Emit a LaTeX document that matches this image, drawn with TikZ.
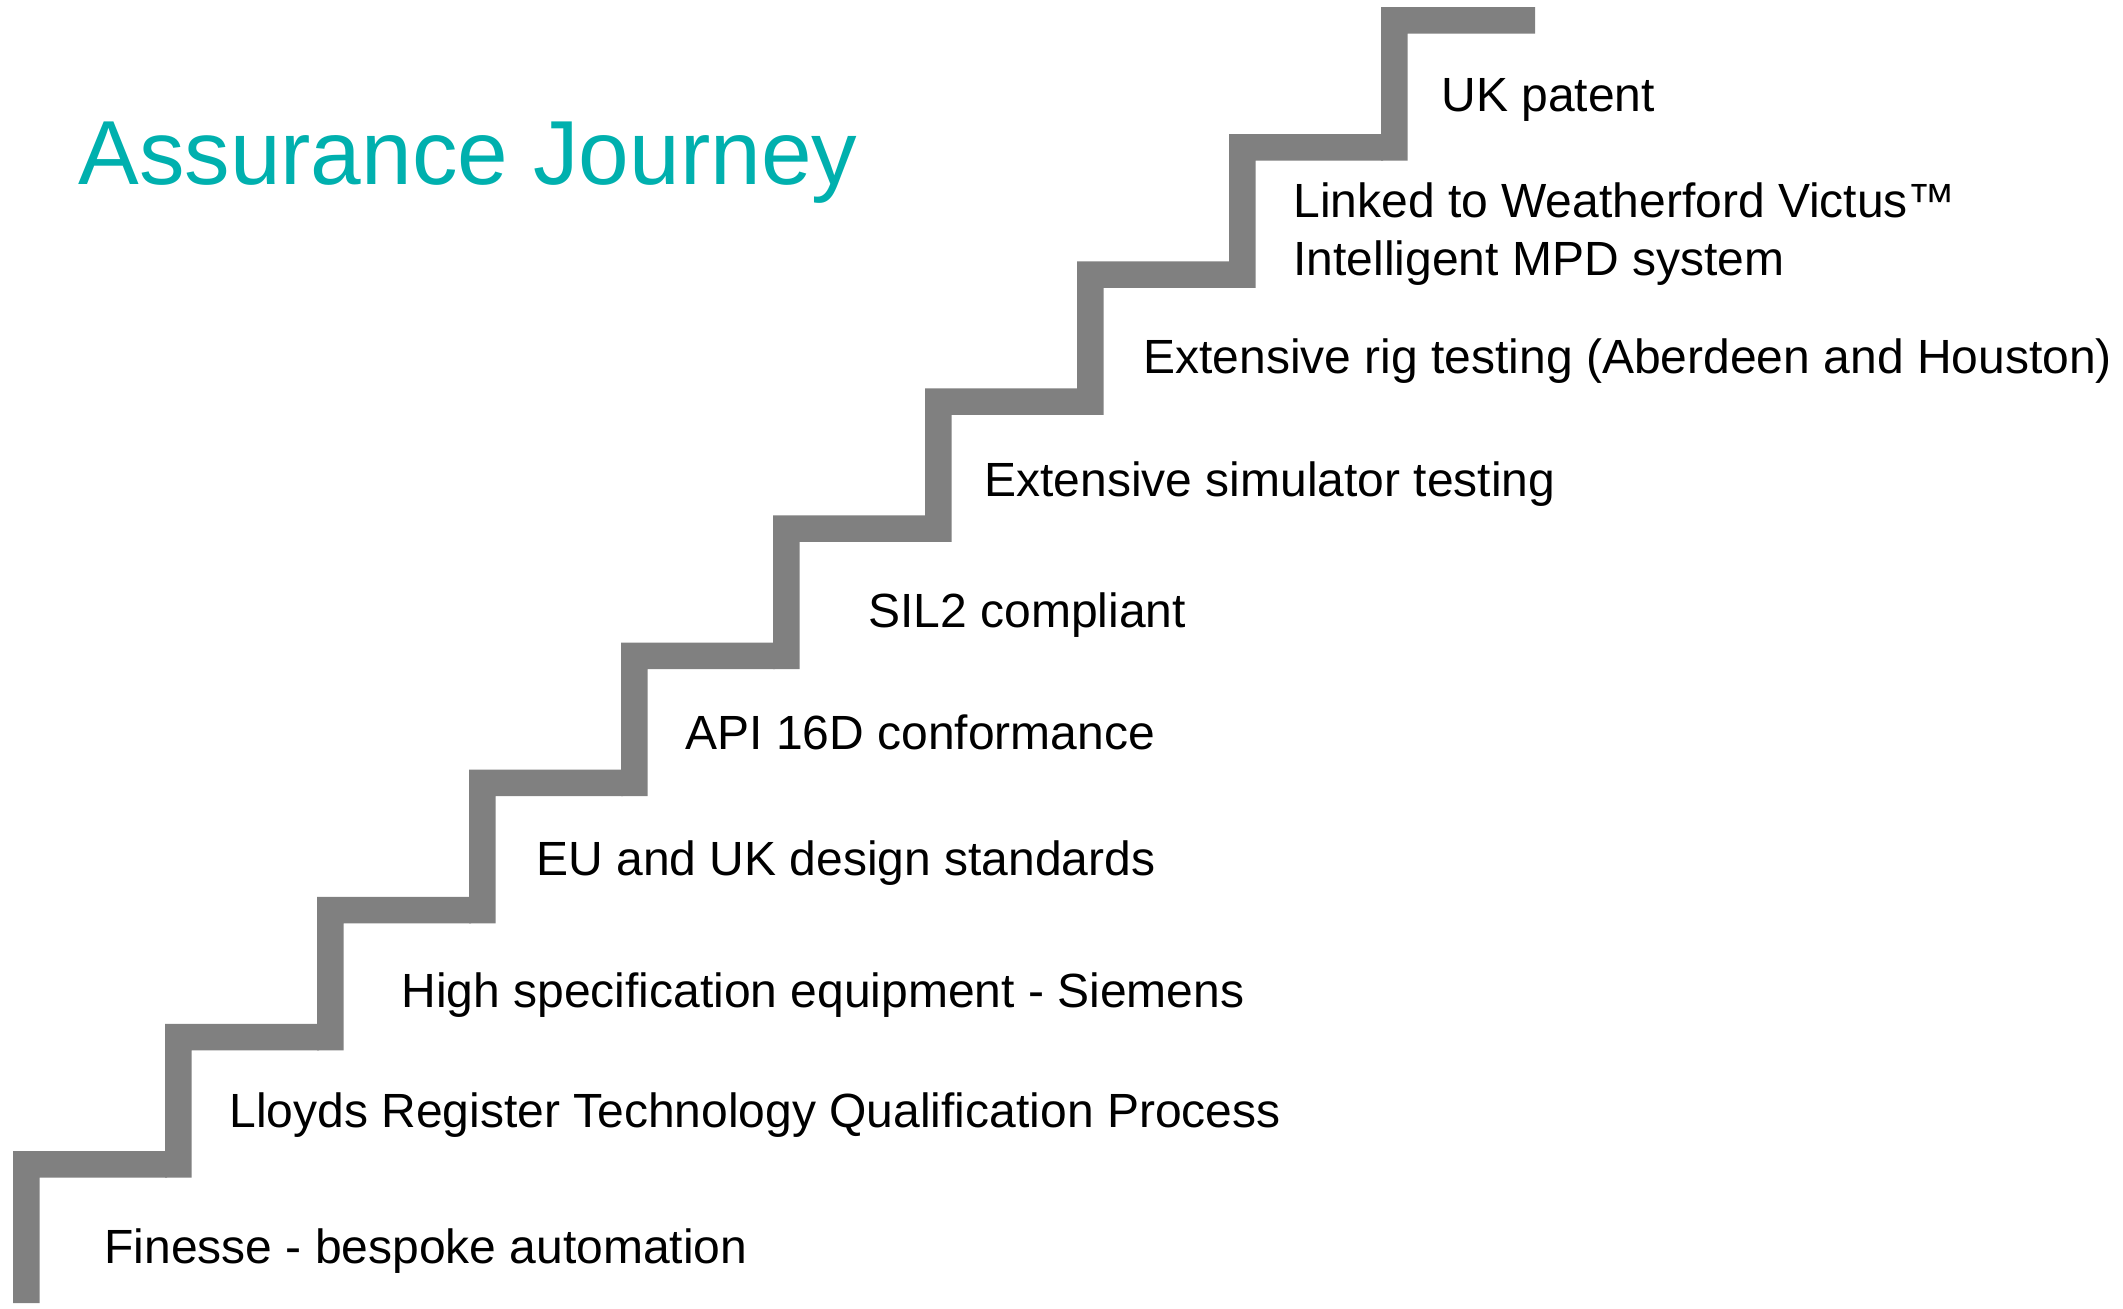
\documentclass[tikz,border=0pt]{standalone}
\usepackage{fontspec}
\setmainfont{Liberation Sans}
\definecolor{stairgray}{HTML}{808080}
\definecolor{titleteal}{HTML}{00B0AE}
\begin{document}
\begin{tikzpicture}[x=0.5pt,y=-0.5pt,
  stairfill/.style={fill=stairgray,draw=none},
  label/.style={anchor=base west,inner sep=0pt,font=\fontsize{24}{29}\selectfont,text=black},
  heading/.style={anchor=base west,inner sep=0pt,font=\fontsize{45.5}{54}\selectfont,text=titleteal}]
\useasboundingbox (0,0) rectangle (2123,1309);

% staircase: ten L-shaped pieces, rising to the right
\def\barw{26.5}
\foreach \i in {0,...,9}{
  \pgfmathsetmacro{\xl}{13+152*\i}
  \pgfmathsetmacro{\yt}{1151-127.1*\i}
  \pgfmathsetmacro{\yb}{ifthenelse(\i==0,1303,1151-127.1*(\i-1)+\barw)}
  \pgfmathsetmacro{\xr}{\xl+154}
  \fill[stairfill] (\xl,\yb) -- (\xl,\yt) -- (\xr,\yt) -- (\xr,\yt+\barw)
    -- (\xl+\barw,\yt+\barw) -- (\xl+\barw,\yb) -- cycle;
}

% title
\node[heading] (title) at (78,185) {Assurance Journey};

% milestones, one per step
\node[label] (s1) at (104,1263) {Finesse - bespoke automation};
\node[label] (s2) at (229,1127) {Lloyds Register Technology Qualification Process};
\node[label] (s3) at (401,1007) {High specification equipment - Siemens};
\node[label] (s4) at (536,875) {EU and UK design standards};
\node[label] (s5) at (685,749) {API 16D conformance};
\node[label] (s6) at (868,627) {SIL2 compliant};
\node[label] (s7) at (984,497) {Extensive simulator testing};
\node[label] (s8) at (1143,374) {Extensive rig testing (Aberdeen and Houston)};
\node[label] (s9) at (1293,218) {Linked to Weatherford Victus™};
\node[label] (s9b) at (1293,276) {Intelligent MPD system};
\node[label] (s10) at (1441,112) {UK patent};
\end{tikzpicture}
\end{document}
